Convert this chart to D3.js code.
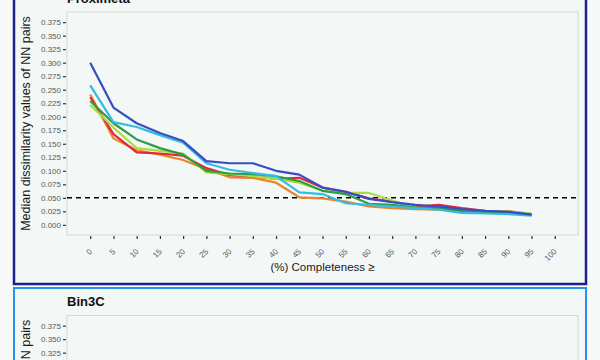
<!DOCTYPE html>
<html>
<head>
<meta charset="utf-8">
<script src="https://cdn.jsdelivr.net/npm/d3@7"></script>
<style>
  body { margin: 0; background: #f6f9f8; }
  svg { display: block; font-family: "Liberation Sans", Arial, sans-serif; }
</style>
</head>
<body>
<svg id="chart" width="600" height="360"></svg>
<script>
// completeness thresholds (%)
const completeness = [0, 5, 10, 15, 20, 25, 30, 35, 40, 45, 50, 55, 60, 65, 70, 75, 80, 85, 90, 95];
const xTicks = [0, 5, 10, 15, 20, 25, 30, 35, 40, 45, 50, 55, 60, 65, 70, 75, 80, 85, 90, 95, 100];
const yTicks = [0, 0.025, 0.05, 0.075, 0.1, 0.125, 0.15, 0.175, 0.2, 0.225, 0.25, 0.275, 0.3, 0.325, 0.35, 0.375];
const cutoff = 0.05;

// Proximeta, median dissimilarity per method
const blueVals   = [0.300, 0.217, 0.188, 0.170, 0.155, 0.118, 0.114, 0.114, 0.100, 0.093, 0.069, 0.061, 0.048, 0.042, 0.037, 0.034, 0.029, 0.026, 0.024, 0.019];
const cyanVals   = [0.258, 0.190, 0.181, 0.166, 0.152, 0.114, 0.102, 0.096, 0.090, 0.060, 0.057, 0.040, 0.037, 0.034, 0.031, 0.028, 0.022, 0.021, 0.020, 0.017];
const redVals    = [0.236, 0.168, 0.134, 0.132, 0.128, 0.105, 0.092, 0.090, 0.085, 0.087, 0.069, 0.061, 0.049, 0.043, 0.034, 0.037, 0.031, 0.026, 0.025, 0.019];
const orangeVals = [0.241, 0.160, 0.138, 0.130, 0.120, 0.103, 0.088, 0.087, 0.078, 0.051, 0.049, 0.043, 0.034, 0.031, 0.029, 0.028, 0.026, 0.025, 0.025, 0.020];
const greenVals  = [0.229, 0.188, 0.158, 0.142, 0.130, 0.100, 0.095, 0.094, 0.090, 0.081, 0.063, 0.057, 0.039, 0.037, 0.032, 0.031, 0.026, 0.022, 0.023, 0.019];
const limeVals   = [0.222, 0.180, 0.142, 0.137, 0.132, 0.097, 0.094, 0.090, 0.085, 0.078, 0.063, 0.059, 0.059, 0.045, 0.032, 0.031, 0.028, 0.025, 0.025, 0.021];

const seriesColors = ["#e8852a", "#e3263f", "#a6df3e", "#2e9d45", "#33bce6", "#3a4cc4"];

const svg = d3.select("#chart");
const viewHeight = 360;

const panelLeft = 14, panelRight = 586;
const plotLeft = 67, plotRight = 578;

function drawPanel(top, bottom, title, borderColor, borderWidth, series) {
    const g = svg.append("g");
    g.append("rect")
        .attr("x", panelLeft).attr("y", top)
        .attr("width", panelRight - panelLeft).attr("height", bottom - top)
        .style("fill", "#f3f7f5")
        .style("stroke", borderColor)
        .style("stroke-width", borderWidth);

    const plotTop = top + 27.5;
    const plotBottom = plotTop + 223;

    const x = d3.scaleLinear().domain([-5, 105]).range([plotLeft, plotRight]);
    const y = d3.scaleLinear().domain([-0.01875, 0.39375]).range([plotBottom, plotTop]);

    g.append("rect")
        .attr("x", plotLeft).attr("y", plotTop)
        .attr("width", plotRight - plotLeft).attr("height", plotBottom - plotTop)
        .style("fill", "#f3f7f5")
        .style("stroke", "#d6d9d6")
        .style("stroke-width", 1);

    // title
    g.append("text")
        .attr("x", plotLeft).attr("y", top + 18)
        .style("font-size", "13px").style("font-weight", "bold")
        .style("fill", "#111")
        .text(title);

    // y axis (only ticks that fall inside the window)
    const yAxis = g.append("g")
        .attr("transform", "translate(" + (plotLeft - 1) + ",0)")
        .call(d3.axisLeft(y)
            .tickValues(yTicks.filter(t => y(t) < viewHeight))
            .tickSize(3).tickPadding(2).tickFormat(d3.format(".3f")));
    yAxis.select(".domain").remove();
    yAxis.selectAll("line").style("stroke", "#333").style("stroke-width", 1.2);
    yAxis.selectAll("text").style("fill", "#5a5a5a").style("font-size", "8px").style("font-family", "Liberation Sans, Arial, sans-serif");

    // x axis
    if (plotBottom < viewHeight) {
        const xAxis = g.append("g")
            .attr("transform", "translate(0," + (plotBottom + 1) + ")")
            .call(d3.axisBottom(x).tickValues(xTicks).tickSize(3).tickFormat(d3.format("d")));
        xAxis.select(".domain").remove();
        xAxis.selectAll("line").style("stroke", "#333").style("stroke-width", 1.2);
        xAxis.selectAll("text")
            .style("fill", "#5a5a5a").style("font-size", "8px").style("font-family", "Liberation Sans, Arial, sans-serif")
            .attr("text-anchor", "end")
            .attr("dy", null)
            .attr("y", 0)
            .attr("transform", "translate(2,16) rotate(-45)");

        g.append("text")
            .attr("x", (plotLeft + plotRight) / 2).attr("y", plotBottom + 36)
            .attr("text-anchor", "middle")
            .style("font-size", "11.5px").style("fill", "#1a1a1a")
            .text("(%) Completeness \u2265");
    }

    g.append("text")
        .attr("transform", "translate(30," + ((plotTop + plotBottom) / 2) + ") rotate(-90)")
        .attr("text-anchor", "middle")
        .style("font-size", "12.5px").style("fill", "#1a1a1a")
        .text("Median dissimilarity values of NN pairs");

    // cutoff line
    g.append("line")
        .attr("x1", plotLeft).attr("x2", plotRight)
        .attr("y1", y(cutoff)).attr("y2", y(cutoff))
        .style("stroke", "#000").style("stroke-width", 1.5)
        .style("stroke-dasharray", "5,4");

    const line = d3.line()
        .x((d, i) => x(completeness[i]))
        .y(d => y(d));

    g.selectAll(".series")
        .data(series)
        .enter().append("path")
        .attr("class", "series")
        .attr("d", d => line(d.values))
        .style("fill", "none")
        .style("stroke", d => d.color)
        .style("stroke-width", 2.2)
        .style("stroke-linejoin", "round");
}

const proximeta = [
    { values: orangeVals, color: seriesColors[0] },
    { values: redVals,    color: seriesColors[1] },
    { values: limeVals,   color: seriesColors[2] },
    { values: greenVals,  color: seriesColors[3] },
    { values: cyanVals,   color: seriesColors[4] },
    { values: blueVals,   color: seriesColors[5] }
];

drawPanel(-15.5, 284, "Proximeta", "#1d1f8c", 2.5, proximeta);
// Bin3C panel: only its top edge is in view, no lines reach this far up
drawPanel(288, 590, "Bin3C", "#2b8ff0", 2, []);
</script>
</body>
</html>
